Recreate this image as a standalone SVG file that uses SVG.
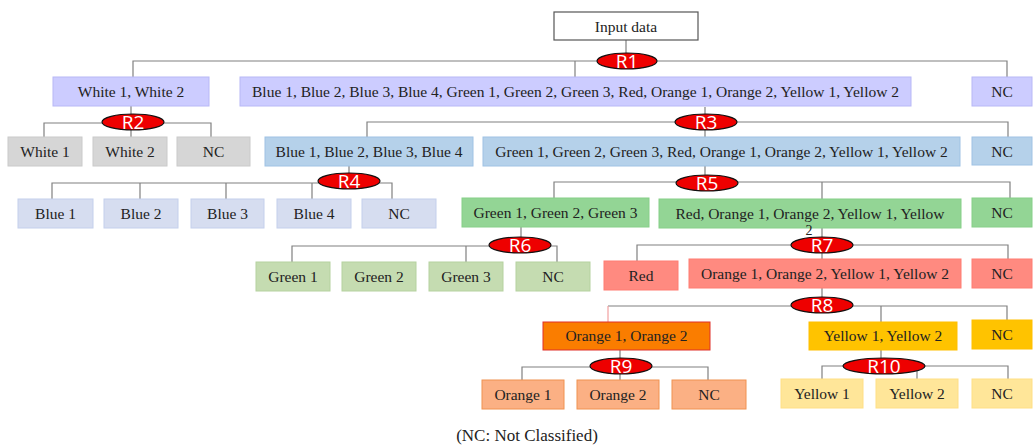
<svg xmlns="http://www.w3.org/2000/svg" width="1035" height="445" viewBox="0 0 1035 445">
<style>
.t{font-family:"Liberation Serif","Times New Roman",serif;font-size:15.5px;fill:#222;text-anchor:middle}
.r{font-family:"Open Sans","Liberation Sans",sans-serif;font-size:19px;fill:#fff;text-anchor:middle}
.e{fill:#ee0000;stroke:#111;stroke-width:1.2}
.c{fill:none;stroke:#808080;stroke-width:1.2}
.in{fill:#fff;stroke:#555;stroke-width:1.2}
.lav{fill:#ccccff;stroke:#b8b8f6}
.gry{fill:#d6d6d6;stroke:#cacaca}
.blu{fill:#b5d1ea;stroke:#9fc2e4}
.per{fill:#d6ddf0;stroke:#c4cfec}
.grn{fill:#93d595;stroke:#86cf88}
.sag{fill:#c5dcb1;stroke:#b5d29f}
.sal{fill:#ff8a80;stroke:#ff7d72}
.org{fill:#fa7d00;stroke:#e0302a}
.yel{fill:#ffc300;stroke:#ffbf00}
.lor{fill:#fbb084;stroke:#f09250}
.lye{fill:#ffe699;stroke:#ffdf85}
</style>
<g id="connectors">
<path class="c" d="M626 40V53"/>
<path class="c" d="M133 77V61H1007V77M575 61V77"/>
<path class="c" d="M131 106V137M44 137V123H211V137"/>
<path class="c" d="M705 107V137M367 137V122H1008V137"/>
<path class="c" d="M349 166V181M52 199V183H392V199M140 183V199M226 183V199M312 183V199"/>
<path class="c" d="M705 166V183M554 198V182H1010V198M822 182V199"/>
<path class="c" d="M521 227V246M292 262V246H557V262M466 246V262"/>
<path class="c" d="M822 228V259M637 261V245H1008V259"/>
<path class="c" d="M822 288V305M608 306H1007V320M881 306V322"/>
<path fill="none" stroke="#f2a0a0" stroke-width="1.2" d="M608 306V322"/>
<path class="c" d="M620 350V380M522 380V367H708V380"/>
<path class="c" d="M881 350V366M822 379V366H1008V379M917 366V379"/>
</g>
<g id="input"><rect class="in" x="554" y="12" width="144" height="28"/><text class="t" x="626" y="31.5">Input data</text></g>
<g id="R1"><ellipse class="e" cx="627" cy="61" rx="30" ry="8"/><text class="r" x="627" y="68">R1</text></g>
<g id="n_white12"><rect class="lav" x="53" y="77" width="156" height="29"/><text class="t" x="131" y="97">White 1, White 2</text></g>
<g id="n_bigblue"><rect class="lav" x="240" y="77" width="671" height="29"/><text class="t" x="575.5" y="97">Blue 1, Blue 2, Blue 3, Blue 4, Green 1, Green 2, Green 3, Red, Orange 1, Orange 2, Yellow 1, Yellow 2</text></g>
<g id="n_nc1"><rect class="lav" x="972" y="77" width="60" height="29"/><text class="t" x="1002" y="97">NC</text></g>
<g id="R2"><ellipse class="e" cx="133" cy="122" rx="31" ry="8"/><text class="r" x="133" y="129">R2</text></g>
<g id="n_white1"><rect class="gry" x="8" y="137" width="74" height="29"/><text class="t" x="45" y="157">White 1</text></g>
<g id="n_white2"><rect class="gry" x="93" y="137" width="74" height="29"/><text class="t" x="130" y="157">White 2</text></g>
<g id="n_nc2"><rect class="gry" x="177" y="137" width="73" height="29"/><text class="t" x="213.5" y="157">NC</text></g>
<g id="R3"><ellipse class="e" cx="706" cy="122" rx="31" ry="8"/><text class="r" x="706" y="129">R3</text></g>
<g id="n_blue1234"><rect class="blu" x="265" y="137" width="208" height="29"/><text class="t" x="369" y="157">Blue 1, Blue 2, Blue 3, Blue 4</text></g>
<g id="n_greenbig"><rect class="blu" x="483" y="137" width="477" height="29"/><text class="t" x="721.5" y="157">Green 1, Green 2, Green 3, Red, Orange 1, Orange 2, Yellow 1, Yellow 2</text></g>
<g id="n_nc3"><rect class="blu" x="972" y="137" width="60" height="28"/><text class="t" x="1002" y="157">NC</text></g>
<g id="R4"><ellipse class="e" cx="349" cy="181" rx="31" ry="8"/><text class="r" x="349" y="188">R4</text></g>
<g id="n_blue1"><rect class="per" x="18" y="199" width="75" height="29"/><text class="t" x="55.5" y="219">Blue 1</text></g>
<g id="n_blue2"><rect class="per" x="104" y="199" width="74" height="29"/><text class="t" x="141" y="219">Blue 2</text></g>
<g id="n_blue3"><rect class="per" x="191" y="199" width="73" height="29"/><text class="t" x="227.5" y="219">Blue 3</text></g>
<g id="n_blue4"><rect class="per" x="277" y="199" width="74" height="29"/><text class="t" x="314" y="219">Blue 4</text></g>
<g id="n_nc4"><rect class="per" x="362" y="199" width="74" height="29"/><text class="t" x="399" y="219">NC</text></g>
<g id="R5"><ellipse class="e" cx="707" cy="183" rx="31" ry="8"/><text class="r" x="707" y="190">R5</text></g>
<g id="n_g123"><rect class="grn" x="462" y="198" width="187" height="29"/><text class="t" x="555.5" y="218">Green 1, Green 2, Green 3</text></g>
<g id="n_roy"><rect class="grn" x="659" y="199" width="302" height="29"/><text class="t" x="810" y="219">Red, Orange 1, Orange 2, Yellow 1, Yellow</text><text class="t" x="809" y="235" style="font-size:14px">2</text></g>
<g id="n_nc5"><rect class="grn" x="972" y="198" width="60" height="29"/><text class="t" x="1002" y="218">NC</text></g>
<g id="R6"><ellipse class="e" cx="520" cy="245" rx="31" ry="8"/><text class="r" x="520" y="252">R6</text></g>
<g id="n_green1"><rect class="sag" x="256" y="262" width="74" height="29"/><text class="t" x="293" y="282">Green 1</text></g>
<g id="n_green2"><rect class="sag" x="342" y="262" width="74" height="29"/><text class="t" x="379" y="282">Green 2</text></g>
<g id="n_green3"><rect class="sag" x="429" y="262" width="74" height="29"/><text class="t" x="466" y="282">Green 3</text></g>
<g id="n_nc6"><rect class="sag" x="516" y="262" width="74" height="29"/><text class="t" x="553" y="282">NC</text></g>
<g id="R7"><ellipse class="e" cx="822" cy="245" rx="31" ry="8"/><text class="r" x="822" y="252">R7</text></g>
<g id="n_red"><rect class="sal" x="604" y="261" width="74" height="29"/><text class="t" x="641" y="281">Red</text></g>
<g id="n_oy"><rect class="sal" x="689" y="259" width="272" height="29"/><text class="t" x="825" y="279">Orange 1, Orange 2, Yellow 1, Yellow 2</text></g>
<g id="n_nc7"><rect class="sal" x="972" y="259" width="60" height="29"/><text class="t" x="1002" y="279">NC</text></g>
<g id="R8"><ellipse class="e" cx="822" cy="305" rx="31" ry="8"/><text class="r" x="822" y="312">R8</text></g>
<g id="n_o12"><rect class="org" x="543" y="322" width="167" height="28"/><text class="t" x="626.5" y="341">Orange 1, Orange 2</text></g>
<g id="n_y12"><rect class="yel" x="809" y="322" width="148" height="28"/><text class="t" x="883" y="341">Yellow 1, Yellow 2</text></g>
<g id="n_nc8"><rect class="yel" x="972" y="320" width="60" height="29"/><text class="t" x="1002" y="340">NC</text></g>
<g id="R9"><ellipse class="e" cx="621" cy="366" rx="31" ry="8"/><text class="r" x="621" y="373">R9</text></g>
<g id="n_orange1"><rect class="lor" x="482" y="380" width="82" height="29"/><text class="t" x="523" y="400">Orange 1</text></g>
<g id="n_orange2"><rect class="lor" x="577" y="380" width="82" height="29"/><text class="t" x="618" y="400">Orange 2</text></g>
<g id="n_nc9"><rect class="lor" x="672" y="380" width="74" height="29"/><text class="t" x="709" y="400">NC</text></g>
<g id="R10"><ellipse class="e" cx="884" cy="366" rx="41" ry="8"/><text class="r" x="884" y="373">R10</text></g>
<g id="n_yellow1"><rect class="lye" x="781" y="379" width="82" height="29"/><text class="t" x="822" y="399">Yellow 1</text></g>
<g id="n_yellow2"><rect class="lye" x="876" y="379" width="82" height="29"/><text class="t" x="917" y="399">Yellow 2</text></g>
<g id="n_nc10"><rect class="lye" x="972" y="379" width="60" height="29"/><text class="t" x="1002" y="399">NC</text></g>
<text x="527" y="441" style="font-family:'Liberation Serif','Times New Roman',serif;font-size:17px;fill:#222;text-anchor:middle">(NC: Not Classified)</text>
</svg>
